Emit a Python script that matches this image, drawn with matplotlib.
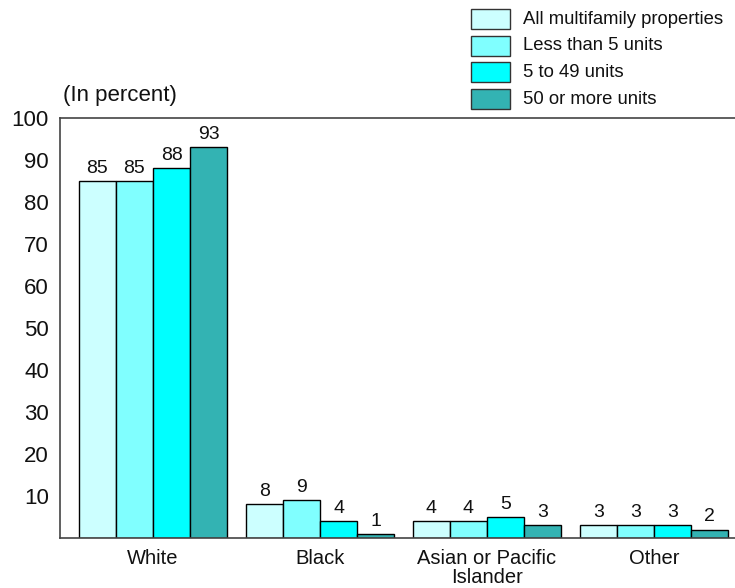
import matplotlib
matplotlib.use("Agg")
import matplotlib.pyplot as plt
from matplotlib.patches import Rectangle
import numpy as np

plt.rcParams['font.family'] = ['Liberation Sans', 'DejaVu Sans']

categories = ["White", "Black", "Asian or Pacific\nIslander", "Other"]
series_names = ["All multifamily properties", "Less than 5 units",
                "5 to 49 units", "50 or more units"]
all_multifamily = [85, 8, 4, 3]
less_than_5 = [85, 9, 4, 3]
five_to_49 = [88, 4, 5, 3]
fifty_plus = [93, 1, 3, 2]
series_values = [all_multifamily, less_than_5, five_to_49, fifty_plus]
colors = ["#CCFFFF", "#80FFFF", "#00FFFF", "#33B3B3"]
yticks = [10, 20, 30, 40, 50, 60, 70, 80, 90, 100]

W, H = 735, 588
fig = plt.figure(figsize=(W / 100, H / 100), dpi=100)
ax = fig.add_axes([60 / W, 1 - 538 / H, (735 - 60) / W, (538 - 118) / H])

x = np.arange(len(categories))
bw = 0.222
offsets = (np.arange(4) - 1.5) * bw
for vals, off, col in zip(series_values, offsets, colors):
    bars = ax.bar(x + off, vals, width=bw, color=col, edgecolor="black",
                  linewidth=1.0, zorder=2)
    for b, v in zip(bars, vals):
        ax.annotate(f"{v}", (b.get_x() + b.get_width() / 2, v),
                    xytext=(0, 3), textcoords="offset points",
                    ha="center", va="bottom", fontsize=14, color="#111111")

ax.set_xlim(-0.557, 3.485)
ax.set_ylim(0, 100)
ax.set_yticks(yticks)
ax.set_yticklabels([str(t) for t in yticks], fontsize=16, color="#111111")
ax.tick_params(axis="y", length=0, pad=8)
ax.set_xticks(x)
ax.set_xticklabels(categories, fontsize=14.5, color="#111111", linespacing=1.0)
ax.tick_params(axis="x", length=0, pad=8)
ax.spines["right"].set_visible(False)
for s in ["left", "bottom", "top"]:
    ax.spines[s].set_color("#444444")
    ax.spines[s].set_linewidth(1.2)

fig.text(63 / W, 1 - 96 / H, "(In percent)", fontsize=16, va="center",
         ha="left", color="#111111")

# legend drawn as figure boxes and labels
for i, (name, col) in enumerate(zip(series_names, colors)):
    cy = 19 + 26.7 * i
    fig.add_artist(Rectangle((471 / W, 1 - (cy + 10) / H), 39 / W, 20 / H,
                             facecolor=col, edgecolor="#333333", linewidth=1.0,
                             transform=fig.transFigure))
    fig.text(523 / W, 1 - cy / H, name, fontsize=13.3, va="center",
             ha="left", color="#111111")

fig.savefig("out.png", dpi=100)
